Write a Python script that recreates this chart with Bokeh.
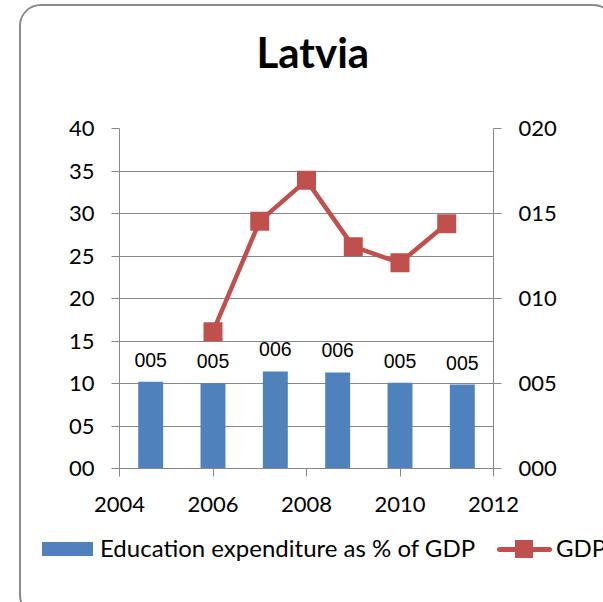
from bokeh.plotting import figure
from bokeh.layouts import column
from bokeh.models import (Range1d, LinearAxis, FixedTicker, CustomJSTickFormatter, ColumnDataSource,
                          LabelSet, Title, Div)
from bokeh.core.properties import value
from bokeh.embed import file_html
from bokeh.resources import INLINE

# ---- data ----
title_text = "Latvia"
categories = ["2006", "2007", "2008", "2009", "2010", "2011"]
edu_share = [5.10, 5.02, 5.71, 5.65, 5.04, 4.94]          # right axis (000 format)
gdp_years = [2006, 2007, 2008, 2009, 2010, 2011]
gdp_values = [16.1, 29.1, 33.9, 26.1, 24.2, 28.8]          # left axis
x_ticks = [2004, 2006, 2008, 2010, 2012]
left_ticks = [0, 5, 10, 15, 20, 25, 30, 35, 40]
right_ticks = [0, 5, 10, 15, 20]
bar_name = "Education expenditure as % of GDP"
line_name = "GDP"

BLUE = "#4F81BD"
RED = "#C0504D"
GRAY = "#888888"
FONT = "Lato"

p = figure(frame_width=374, frame_height=340, x_range=Range1d(2004, 2012), y_range=Range1d(0, 40),
           output_backend="svg", toolbar_location=None,
           min_border_left=98, min_border_right=110, min_border_top=122, min_border_bottom=57)
p.extra_x_ranges = {"cat": Range1d(0, len(categories))}
p.extra_y_ranges = {"right": Range1d(0, 20)}
p.outline_line_color = None
p.background_fill_color = "white"
p.border_fill_color = "white"

# spacer between frame and title (pushes title upward)
spacer = Title(text=" ", text_font_size="10px", standoff=39)
p.add_layout(spacer, "above")

# title
p.title.text = title_text
p.title.align = "left"
p.title.offset = 137
p.title.standoff = 0
p.title.text_font = FONT
p.title.text_font_size = "42px"
p.title.text_font_style = "bold"
p.title.text_color = "black"

# axes
def style_axis(ax, standoff):
    ax.axis_line_color = GRAY
    ax.major_tick_line_color = GRAY
    ax.major_tick_out = 8
    ax.major_tick_in = 0
    ax.minor_tick_line_color = None
    ax.major_label_text_font = FONT
    ax.major_label_text_font_size = "22px"
    ax.major_label_text_color = "black"
    ax.major_label_standoff = standoff

xa = p.xaxis[0]
xa.ticker = FixedTicker(ticks=x_ticks)
style_axis(xa, 20)

ya = p.yaxis[0]
ya.ticker = FixedTicker(ticks=left_ticks)
ya.formatter = CustomJSTickFormatter(code="return tick.toFixed(0).padStart(2, '0')")
style_axis(ya, 17)

ra = LinearAxis(y_range_name="right", ticker=FixedTicker(ticks=right_ticks),
                formatter=CustomJSTickFormatter(code="return tick.toFixed(0).padStart(3, '0')"))
style_axis(ra, 17)
p.add_layout(ra, "right")

p.xgrid.visible = False
p.ygrid.ticker = FixedTicker(ticks=left_ticks)
p.ygrid.grid_line_color = GRAY
p.ygrid.grid_line_width = 1

# bars on a category-position range
bar_src = ColumnDataSource(dict(
    pos=[i + 0.5 for i in range(len(categories))],
    val=edu_share,
    lbl=[f"{v:03.0f}" for v in edu_share],
))
bars = p.vbar(x="pos", top="val", width=0.4, source=bar_src, x_range_name="cat",
              y_range_name="right", fill_color=BLUE, line_color=None)
labels = LabelSet(x="pos", y="val", text="lbl", source=bar_src, x_range_name="cat",
                  y_range_name="right", text_align="center", text_baseline="alphabetic",
                  y_offset=15, text_font=value("Liberation Sans"), text_font_size=value("19.5px"),
                  text_color="black")
p.add_layout(labels)

# line
line_src = ColumnDataSource(dict(x=gdp_years, y=gdp_values))
ln = p.line("x", "y", source=line_src, line_color=RED, line_width=4.5)
mk = p.scatter("x", "y", source=line_src, marker="square", size=19, fill_color=RED, line_color=None)

# ---- legend strip below the plot ----
txt = f"font-family:{FONT};font-size:24px;line-height:1;color:black;position:absolute;white-space:nowrap;"
legend_html = (
    '<div style="position:relative;width:570px;height:76px;">'
    f'<div style="position:absolute;left:16px;top:12px;width:51px;height:14px;background:{BLUE};"></div>'
    f'<span style="{txt}left:74px;top:5.5px;">{bar_name}</span>'
    f'<div style="position:absolute;left:471px;top:16.5px;width:55px;height:5px;border-radius:2.5px;background:{RED};"></div>'
    f'<div style="position:absolute;left:489px;top:10px;width:18px;height:18px;background:{RED};"></div>'
    f'<span style="{txt}left:530px;top:5.5px;">{line_name}</span>'
    '</div>'
)
legend_div = Div(text=legend_html, width=582, height=80)

layout = column(p, legend_div, spacing=0)
layout.styles = {"margin-left": "19px", "margin-top": "4px", "border": "2px solid #8a8a8a",
                 "border-radius": "22px", "overflow": "hidden", "background-color": "white"}

open("out.html", "w").write(file_html(layout, INLINE))
